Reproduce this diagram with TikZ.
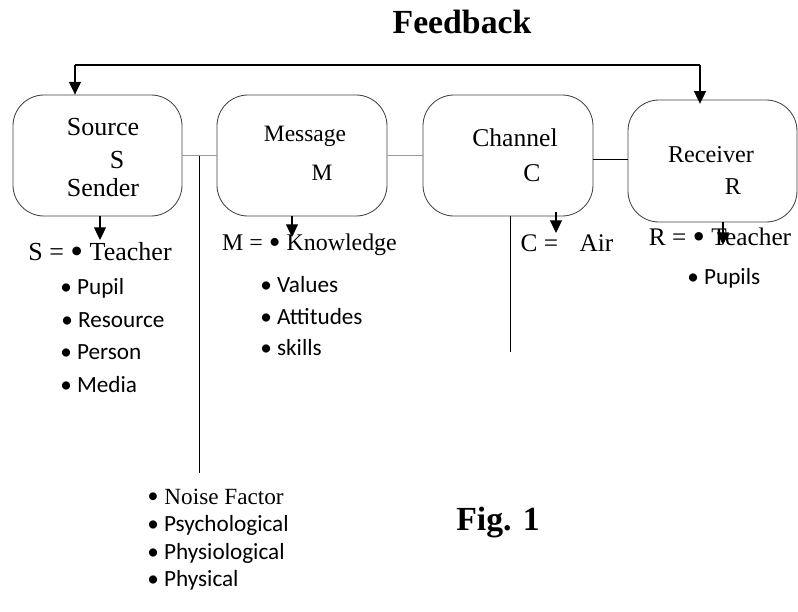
\documentclass[tikz,border=0pt]{standalone}
\usepackage{fontspec}
\usepackage{graphicx}
\setmainfont{Liberation Serif}
\newfontfamily\listfont{Carlito}
\usetikzlibrary{arrows.meta}

\newlength{\unitpx}
\setlength{\unitpx}{0.025cm}
\newcommand{\bigbul}{\raisebox{-0.13em}{\scalebox{1.4}{\textbullet}}}

\tikzset{
  box/.style={draw=black!75,line width=0.6pt,rounded corners=22pt,
    minimum width=169\unitpx,minimum height=121\unitpx,inner sep=0pt},
  tip/.style={line width=0.8pt,-{Triangle[width=8.5pt,length=9pt]}},
  lbl/.style={inner sep=0pt,font=\fontsize{#1}{#1}\selectfont},
  lbl/.default=17.5,
  item/.style={inner sep=0pt,anchor=west,font=\listfont\fontsize{16.5}{16.5}\selectfont},
  link/.style={line width=0.6pt},
}

\begin{document}
\begin{tikzpicture}[x=0.025cm,y=-0.025cm]
\useasboundingbox (0,0) rectangle (798,612);

\node[lbl=24,font=\bfseries\fontsize{24}{24}\selectfont] (fb) at (462,22) {Feedback};

% the four boxes
\node[box] (src) at (97.5,155.5) {};
\node[box,minimum width=170\unitpx] (msg) at (302,155.5) {};
\node[box,minimum width=170\unitpx] (chn) at (508,155.5) {};
\node[box,minimum height=122\unitpx] (rcv) at (712.5,161) {};

\node[lbl=18.5] (srcA) at (103,127) {Source};
\node[lbl=18.5] (srcB) at (117,160) {S};
\node[lbl=18.5] (srcC) at (103,188) {Sender};
\node[lbl=16.7] (msgA) at (305,136) {Message};
\node[lbl=16.7] (msgB) at (322,173) {M};
\node[lbl=18.2] (chnA) at (515,138) {Channel};
\node[lbl=18.2] (chnB) at (532,173) {C};
\node[lbl=17.2] (rcvA) at (711,155) {Receiver};
\node[lbl=17.2] (rcvB) at (733,187) {R};

% feedback loop
\coordinate (fbl) at (75,65);
\coordinate (fbr) at (700,65);
\draw[line width=1pt] (fbl) -- (fbr);
\draw[tip] (fbl) -- (fbl |- src.north);
\draw[tip] (fbr) -- ([yshift=-3pt]fbr |- rcv.north);

% links between the boxes
\draw[link,gray!80,line width=1pt] (src.east) -- (msg.west);
\draw[link,gray!80,line width=1pt] (msg.east) -- (chn.west);
\draw[link] ([yshift=-3pt]chn.east) -- ([yshift=-3pt]chn.east -| rcv.west);

% noise and channel drop lines
\coordinate (ntop) at (199,155.5);
\coordinate (nbot) at (199,473);
\draw[link] (ntop) -- (nbot);
\coordinate (cbot) at (510,352);
\draw[link] (cbot |- chn.south) -- (cbot);

% lists
\node[lbl=18.5] (sl) at (100,253) {S = \bigbul{} Teacher};
\node[item] (s1) at (60,288) {\textbullet\ Pupil};
\node[item] (s2) at (61,320) {\textbullet\ Resource};
\node[item] (s3) at (60,352) {\textbullet\ Person};
\node[item] (s4) at (60,385) {\textbullet\ Media};

\node[lbl=17] (ml) at (309.5,245) {M = \bigbul{} Knowledge};
\node[item] (m1) at (260,285) {\textbullet\ Values};
\node[item] (m2) at (260,317) {\textbullet\ Attitudes};
\node[item] (m3) at (260,348) {\textbullet\ skills};

\node[lbl=18] (cl) at (567,243) {C =\hspace{0.85em}Air};

\node[lbl=18] (rl) at (720,238) {R = \bigbul{} Teacher};
\node[item] (r1) at (687,278) {\textbullet\ Pupils};

\node[lbl=16.5,anchor=west] (nf) at (147,498) {\bigbul{} Noise Factor};
\node[item] (n1) at (147,525) {\textbullet\ Psychological};
\node[item] (n2) at (147,553) {\textbullet\ Physiological};
\node[item] (n3) at (147,580) {\textbullet\ Physical};

\node[lbl=24,font=\bfseries\fontsize{24}{24}\selectfont] (fig) at (498,523) {Fig. 1};

% arrows into the lists
\coordinate (stip) at (100,240);
\coordinate (mtip) at (292,237);
\coordinate (ctip) at (556,233);
\coordinate (rtip) at (723,245);
\draw[tip] (src.south -| stip) -- (stip);
\draw[tip] (msg.south -| mtip) -- (mtip);
\draw[tip] ([yshift=3pt]chn.south -| ctip) -- (ctip);
\draw[tip] (rcv.south -| rtip) -- (rtip);
\end{tikzpicture}
\end{document}
